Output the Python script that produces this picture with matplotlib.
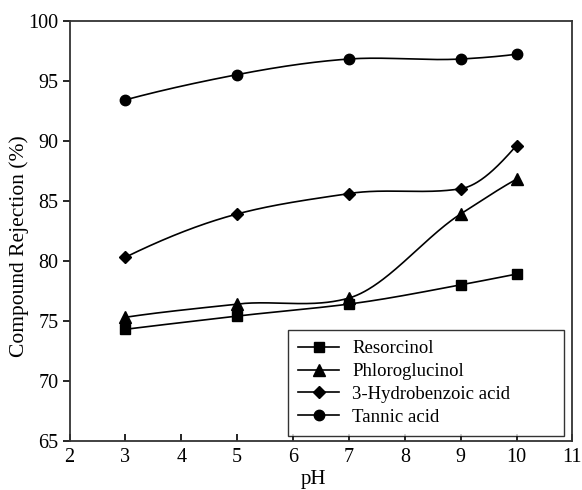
import numpy as np
import matplotlib.pyplot as plt

plt.rcParams['font.family'] = ['Liberation Serif', 'DejaVu Serif']

ph = [3, 5, 7, 9, 10]
resorcinol = [74.3, 75.4, 76.4, 78.0, 78.9]
phloroglucinol = [75.3, 76.4, 76.9, 83.9, 86.8]
hydrobenzoic = [80.3, 83.9, 85.6, 86.0, 89.6]
tannic = [93.4, 95.5, 96.8, 96.8, 97.2]


def smooth_curve(x, y, n=400):
    # Akima spline through the measured points (little overshoot)
    x = np.asarray(x, float)
    y = np.asarray(y, float)
    m = np.diff(y) / np.diff(x)
    mm = np.concatenate([[3*m[0] - 2*m[1], 2*m[0] - m[1]], m,
                         [2*m[-1] - m[-2], 3*m[-1] - 2*m[-2]]])
    t = np.zeros(len(x))
    for i in range(len(x)):
        m1, m2, m3, m4 = mm[i], mm[i+1], mm[i+2], mm[i+3]
        w1 = abs(m4 - m3)
        w2 = abs(m2 - m1)
        if w1 + w2 < 1e-12:
            t[i] = (m2 + m3) / 2
        else:
            t[i] = (w1*m2 + w2*m3) / (w1 + w2)
    xs = np.linspace(x[0], x[-1], n)
    idx = np.clip(np.searchsorted(x, xs) - 1, 0, len(x) - 2)
    h = x[idx+1] - x[idx]
    s = (xs - x[idx]) / h
    h00 = 2*s**3 - 3*s**2 + 1
    h10 = s**3 - 2*s**2 + s
    h01 = -2*s**3 + 3*s**2
    h11 = s**3 - s**2
    ys = h00*y[idx] + h10*h*t[idx] + h01*y[idx+1] + h11*h*t[idx+1]
    return xs, ys


fig = plt.figure(figsize=(5.82, 4.90), dpi=100)
ax = fig.add_axes([0.1195, 0.1, 0.864, 0.858])

series = [
    (resorcinol, 's', 6.5, 'Resorcinol'),
    (phloroglucinol, '^', 8, 'Phloroglucinol'),
    (hydrobenzoic, 'D', 6, '3-Hydrobenzoic acid'),
    (tannic, 'o', 7.5, 'Tannic acid'),
]
for vals, mk, ms, lab in series:
    xs, ys = smooth_curve(ph, vals)
    ax.plot(xs, ys, color='black', lw=1.2)
    ax.plot(ph, vals, linestyle='none', marker=mk, ms=ms, color='black')
    ax.plot([], [], color='black', lw=1.2, marker=mk, ms=ms, label=lab)

ax.set_xlim(2, 11)
ax.set_ylim(65, 100)
ax.set_xticks(range(2, 12))
ax.set_yticks(range(65, 101, 5))
ax.tick_params(axis='x', direction='in', length=5, width=1.2, labelsize=14.5, pad=5)
ax.tick_params(axis='y', direction='out', length=5, width=1.2, labelsize=14.5, pad=3)
for s in ax.spines.values():
    s.set_linewidth(1.3)
    s.set_color('#333333')

ax.set_xlabel('pH', fontsize=15)
ax.xaxis.set_label_coords(0.485, -0.068)
ax.set_ylabel('Compound Rejection (%)', fontsize=15.5)
ax.yaxis.set_label_coords(-0.081, 0.463)

leg = ax.legend(loc='lower left', bbox_to_anchor=(0.434, 0.012, 0.55, 0.257),
                mode='expand', borderaxespad=0, fontsize=13.5,
                frameon=True, fancybox=False, handlelength=2.2,
                borderpad=0.55, labelspacing=0.3, handletextpad=0.7)
leg.get_frame().set_edgecolor('black')
leg.get_frame().set_linewidth(1.0)

fig.savefig('out.png', dpi=100)
